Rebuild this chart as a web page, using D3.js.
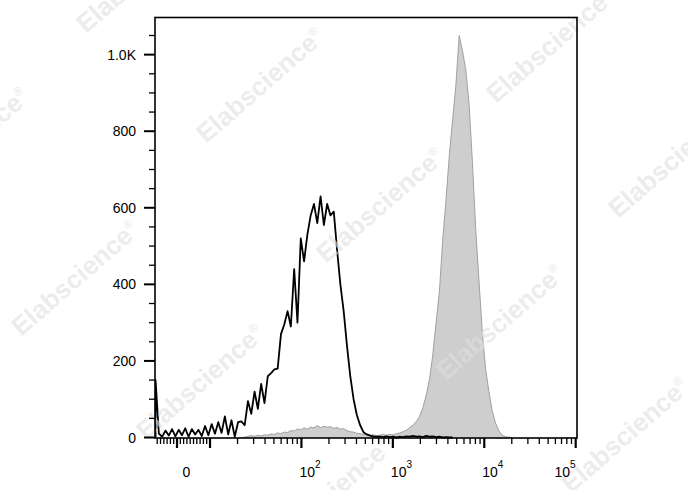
<!DOCTYPE html>
<html>
<head>
<meta charset="utf-8">
<script src="https://cdn.jsdelivr.net/npm/d3@7"></script>
<style>
  html, body { margin: 0; padding: 0; background: #fff; }
  svg { display: block; }
  text { font-family: "Liberation Sans", Arial, Helvetica, sans-serif; }
</style>
</head>
<body>
<svg id="chart" width="688" height="490"></svg>
<script>
// ---------------- DATA ----------------
// Histogram bins are equally spaced in display (biexponential) channel units.
const binStart = -0.65;   // centre of first bin, display units
const binWidth = 0.1;     // bin width, display units

// Unstained / isotype (black outline) counts per bin, starting at bin 0
const blackCounts = [
  150, 10, 2, 18, 5, 22, 3, 20, 6, 24,
  2, 22, 8, 20, 4, 30, 6, 35, 10, 40,
  12, 55, 8, 45, 2, 40, 42, 32, 95, 62,
  120, 75, 140, 90, 160, 168, 178, 180, 270, 295,
  330, 290, 440, 300, 520, 460, 530, 580, 610, 560,
  630, 555, 610, 580, 590, 490, 400, 330, 240, 160,
  100, 58, 32, 14, 8, 5, 3, 2, 2, 1,
  3, 1, 2, 0, 2, 1, 3, 2, 4, 2,
  3, 1, 4, 2, 3, 1, 2, 0, 1, 0, 0
];

// Stained sample (grey filled) counts per bin, starting at bin grayFirstBin
const grayFirstBin = 26;
const grayCounts = [
  0, 1, 3, 5, 3, 6, 4, 7, 6, 9,
  8, 12, 10, 14, 13, 18, 17, 22, 20, 25,
  22, 27, 25, 31, 26, 29, 27, 28, 24, 26,
  22, 23, 18, 15, 14, 11, 10, 8, 9, 6,
  7, 5, 6, 8, 6, 8, 7, 10, 12, 15,
  19, 26, 32, 42, 55, 78, 110, 152, 215, 300,
  380, 515, 620, 735, 830, 920, 1050, 1010, 960, 870,
  720, 545, 410, 275, 180, 120, 70, 38, 18, 6,
  2, 1, 0
];

// Axis ticks
const yMajorTicks = [0, 200, 400, 600, 800, 1000];
const yMajorLabels = ["0", "200", "400", "600", "800", "1.0K"];
const yMinorTicks = [50, 100, 150, 250, 300, 350, 450, 500, 550, 650, 700, 750, 850, 900, 950, 1050];

const xMajorTicks = [0, 10, 100, 1000, 10000, 100000];
const xMinorTicks = [-6, -5, -4, -3, -2, -1, 1, 2, 3, 4, 5, 6, 7, 8, 9,
  20, 30, 40, 50, 60, 70, 80, 90,
  200, 300, 400, 500, 600, 700, 800, 900,
  2000, 3000, 4000, 5000, 6000, 7000, 8000, 9000,
  20000, 30000, 40000, 50000, 60000, 70000, 80000, 90000];
const xLabelValues = [0, 100, 1000, 10000, 100000];
const xLabelExponents = [null, "2", "3", "4", "5"];

const watermarkText = "Elabscience";
const watermarkCenters = [
  [140, -25], [260, 85], [380, 205], [500, 322], [625, 435],
  [550, 45], [672, 160], [-35, 145], [75, 278], [200, 382], [328, 495]
];

// ---------------- SCALES ----------------
const plot = { left: 155, right: 577, top: 17.5, bottom: 438 };

// biexponential-like display transform: linear below 10, log above
function displayT(v) {
  return v <= 10 ? v / 10 : 1 + 2.77 * Math.log10(v / 10);
}
const x = d3.scaleLinear().domain([-0.667, 12.12]).range([plot.left, plot.right]);
const xv = v => x(displayT(v));
const y = d3.scaleLinear().domain([0, 1097]).range([437.5, plot.top]);

const svg = d3.select("#chart");
svg.append("rect").attr("width", 688).attr("height", 490).attr("fill", "#fff");

const defs = svg.append("defs");
defs.append("clipPath").attr("id", "clip")
  .append("rect").attr("x", plot.left).attr("y", plot.top)
  .attr("width", plot.right - plot.left).attr("height", plot.bottom - plot.top + 1);

const binCenter = i => binStart + i * binWidth;

// ---------------- GREY FILLED HISTOGRAM ----------------
const grayPts = grayCounts.map((c, k) => [binCenter(grayFirstBin + k), c]);
const area = d3.area()
  .x(d => x(d[0])).y0(y(0)).y1(d => y(d[1]));
const gLine = d3.line().x(d => x(d[0])).y(d => y(d[1]));

const dataG = svg.append("g").attr("clip-path", "url(#clip)");
dataG.append("path").datum(grayPts)
  .attr("d", area).attr("fill", "#cecece").attr("stroke", "none");
dataG.append("path").datum(grayPts)
  .attr("d", gLine).attr("fill", "none").attr("stroke", "#a0a0a0").attr("stroke-width", 1);

// ---------------- WATERMARK ----------------
const wm = svg.append("g").attr("pointer-events", "none");
watermarkCenters.forEach(([cx, cy]) => {
  const t = wm.append("text")
    .attr("transform", `translate(${cx},${cy}) rotate(-41)`)
    .attr("text-anchor", "middle")
    .attr("dy", "0.35em")
    .attr("font-size", 26)
    .attr("font-weight", "bold")
    .attr("fill", "#e0e0e0")
    .attr("fill-opacity", 0.6)
    .text(watermarkText);
  t.append("tspan").attr("font-size", 12).attr("dy", "-0.9em").text("®");
});

// ---------------- BLACK HISTOGRAM ----------------
const blackPts = [[binCenter(0), 0]].concat(blackCounts.map((c, i) => [binCenter(i), c]));
dataG.append("path").datum(blackPts)
  .attr("d", gLine).attr("fill", "none").attr("stroke", "#000")
  .attr("stroke-width", 1.8).attr("stroke-linejoin", "round");

// ---------------- FRAME ----------------
svg.append("rect")
  .attr("x", plot.left).attr("y", plot.top)
  .attr("width", plot.right - plot.left).attr("height", plot.bottom - plot.top)
  .attr("fill", "none").attr("stroke", "#000").attr("stroke-width", 1.6);

// ---------------- Y AXIS ----------------
const yAx = svg.append("g");
yAx.selectAll("line.ymaj").data(yMajorTicks).join("line")
  .attr("x1", plot.left - 11).attr("x2", plot.left)
  .attr("y1", d => y(d)).attr("y2", d => y(d))
  .attr("stroke", "#000").attr("stroke-width", 2);
yAx.selectAll("line.ymin").data(yMinorTicks).join("line")
  .attr("x1", plot.left - 6).attr("x2", plot.left)
  .attr("y1", d => y(d)).attr("y2", d => y(d))
  .attr("stroke", "#000").attr("stroke-width", 1.3);
yAx.selectAll("text").data(yMajorTicks).join("text")
  .attr("x", 136).attr("y", d => y(d)).attr("dy", "0.36em")
  .attr("text-anchor", "end").attr("font-size", 14).attr("fill", "#000")
  .text((d, i) => yMajorLabels[i]);

// ---------------- X AXIS ----------------
const xAx = svg.append("g");
xAx.selectAll("line.xmaj").data(xMajorTicks).join("line")
  .attr("x1", d => xv(d)).attr("x2", d => xv(d))
  .attr("y1", plot.bottom).attr("y2", plot.bottom + 10)
  .attr("stroke", "#000").attr("stroke-width", 2.2);
xAx.selectAll("line.xmin").data(xMinorTicks).join("line")
  .attr("x1", d => xv(d)).attr("x2", d => xv(d))
  .attr("y1", plot.bottom).attr("y2", plot.bottom + 6)
  .attr("stroke", "#000").attr("stroke-width", 1.3);

xLabelValues.forEach((v, i) => {
  const exp = xLabelExponents[i];
  const t = xAx.append("text").attr("y", 477).attr("font-size", 14).attr("fill", "#000");
  if (exp === null) {
    t.attr("x", xv(v) + 9.5).attr("text-anchor", "middle").text("0");
  } else {
    if (i === xLabelValues.length - 1) {
      t.attr("x", xv(v)).attr("text-anchor", "end");
    } else {
      t.attr("x", xv(v) - 2).attr("text-anchor", "start");
    }
    t.append("tspan").text("10");
    t.append("tspan").attr("dy", -9).attr("font-size", 10).text(exp);
  }
});
</script>
</body>
</html>
